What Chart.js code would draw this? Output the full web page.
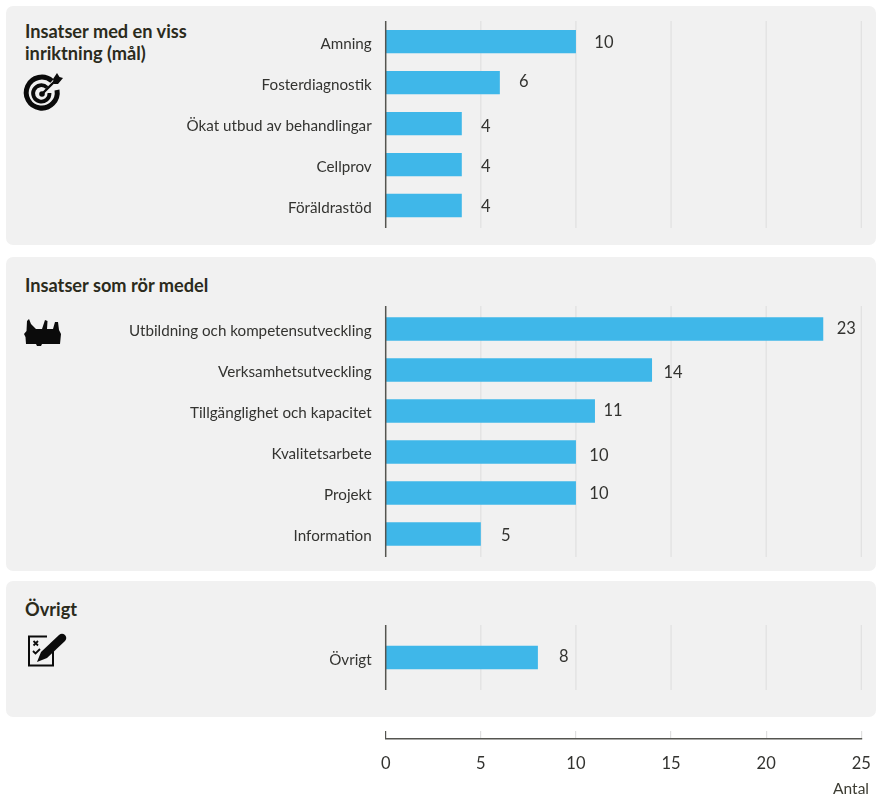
<!DOCTYPE html>
<html lang="sv">
<head>
<meta charset="utf-8">
<title>Insatser</title>
<script src="https://cdn.jsdelivr.net/npm/chart.js@4/dist/chart.umd.min.js"></script>
<style>
  html, body { margin: 0; padding: 0; background: #fff; }
  #page { position: relative; width: 876px; height: 797px; overflow: hidden; font-family: Lato, sans-serif; }
  .panel { position: absolute; left: 6px; width: 870px; background: #f1f1f1; border-radius: 7px; }
  .title { position: absolute; left: 25px; font-size: 18.2px; line-height: 22px; font-weight: 700; color: #2b2b1c; }
  #antal { position: absolute; right: 7px; top: 778px; font-size: 15.5px; line-height: 20px; color: #3c3c32; }
  canvas { position: absolute; left: 0; }
  svg { position: absolute; left: 0; top: 0; }
</style>
</head>
<body>
<div id="page">
  <div class="panel" style="top:6px;height:239px"></div>
  <div class="panel" style="top:257px;height:314px"></div>
  <div class="panel" style="top:581px;height:136px"></div>

  <div class="title" style="top:20px">Insatser med en viss<br>inriktning (mål)</div>
  <div class="title" style="top:274px">Insatser som rör medel</div>
  <div class="title" style="top:598px">Övrigt</div>

  <svg width="876" height="797" viewBox="0 0 876 797">
    <!-- target -->
    <g fill="none" stroke="#0b0b0b">
      <path d="M52 81 A15.5 15.5 0 1 0 57 90" stroke-width="5"/>
      <path d="M47 87.5 A8.2 8.2 0 1 0 49.5 93" stroke-width="3.8"/>
      <line x1="42" y1="94" x2="57" y2="79" stroke-width="2.4"/>
    </g>
    <circle cx="42" cy="94" r="2.8" fill="#0b0b0b"/>
    <path d="M53 79 L57 73 L59.5 77 L63 78 L58 84 L54 84 Z" fill="#0b0b0b"/>
    <!-- toolbox -->
    <path d="M24 334 L26.5 331 L27 321 L29 319 L31 324 L36 329 L42 329 L45 320 L47.5 321 L47 329 L53 329 L55 322 L58 322 L59 330 L61 334 L60 344 L42 344 L41 346 L37 346 L36 344 L26 344 L25.5 337 Z" fill="#0b0b0b"/>
    <!-- checklist and pen -->
    <path d="M53 643 V665.5 H29 V636.5 H47" fill="none" stroke="#0b0b0b" stroke-width="2"/>
    <path d="M33.5 641 L38 645.5 M38 641 L33.5 645.5" stroke="#0b0b0b" stroke-width="1.8" fill="none"/>
    <path d="M33 651 L35.5 653.5 L40 649" stroke="#0b0b0b" stroke-width="1.8" fill="none"/>
    <path d="M37 662 L41 652 L59 635 Q62 632.5 65 635 Q67.5 638 65 641 L47 658 Z" fill="#0b0b0b"/>
  </svg>

  <canvas id="chartMal" width="876" height="207" style="top:21px;width:876px;height:207px"></canvas>
  <canvas id="chartMedel" width="876" height="251" style="top:306px;width:876px;height:251px"></canvas>
  <canvas id="chartOvrigt" width="876" height="65" style="top:625px;width:876px;height:65px"></canvas>
  <canvas id="chartAxis" width="876" height="60" style="top:725px;width:876px;height:60px"></canvas>
  <div id="antal">Antal</div>
</div>

<script>
const malLabels = ['Amning', 'Fosterdiagnostik', 'Ökat utbud av behandlingar', 'Cellprov', 'Föräldrastöd'];
const malValues = [10, 6, 4, 4, 4];

const medelLabels = ['Utbildning och kompetensutveckling', 'Verksamhetsutveckling', 'Tillgänglighet och kapacitet', 'Kvalitetsarbete', 'Projekt', 'Information'];
const medelValues = [23, 14, 11, 10, 10, 5];

const ovrigtLabels = ['Övrigt'];
const ovrigtValues = [8];

const axisTicks = [0, 5, 10, 15, 20, 25];

const FONT = 'Lato';
const AREA_LEFT = 385.7;
const AREA_RIGHT = 14.7;

// value labels sit by hand next to the bar tips, so each one has its own nudge
const malNudge = [[28, 0.6], [24, -0.5], [24, 3], [24, 2], [24, 1.5]];
const medelNudge = [[23, -0.7], [21, 2.3], [18, -0.3], [23, 4], [23, 1], [25, 1.7]];
const ovrigtNudge = [[26, -1.3]];

// grid lines run the full canvas height, a bit past the bands
const rulesPlugin = {
  id: 'rules',
  beforeDatasetsDraw(chart) {
    const x = chart.scales.x;
    const ctx = chart.ctx;
    ctx.save();
    ctx.strokeStyle = '#e0e0e0';
    ctx.lineWidth = 1.2;
    x.ticks.forEach(function(t) {
      if (t.value === 0) return;
      const px = x.getPixelForValue(t.value);
      ctx.beginPath();
      ctx.moveTo(px, 0);
      ctx.lineTo(px, chart.height);
      ctx.stroke();
    });
    ctx.restore();
  },
  afterDatasetsDraw(chart) {
    const x = chart.scales.x;
    const ctx = chart.ctx;
    ctx.save();
    ctx.strokeStyle = '#555550';
    ctx.lineWidth = 1.5;
    ctx.beginPath();
    ctx.moveTo(x.getPixelForValue(0), 0);
    ctx.lineTo(x.getPixelForValue(0), chart.height);
    ctx.stroke();
    ctx.restore();
  }
};

const valueLabelPlugin = {
  id: 'valueLabels',
  afterDraw(chart, args, opts) {
    const ctx = chart.ctx;
    const meta = chart.getDatasetMeta(0);
    ctx.save();
    ctx.font = '16.5px ' + FONT;
    ctx.fillStyle = '#333330';
    ctx.textAlign = 'center';
    ctx.textBaseline = 'middle';
    meta.data.forEach(function(bar, i) {
      const nudge = opts.nudge[i];
      ctx.fillText(String(chart.data.datasets[0].data[i]), bar.x + nudge[0], bar.y + nudge[1]);
    });
    ctx.restore();
  }
};

// category names sit slightly below the bar centre, which the tick options can't do
const categoryLabelPlugin = {
  id: 'categoryLabels',
  afterDraw(chart) {
    const y = chart.scales.y;
    const ctx = chart.ctx;
    ctx.save();
    ctx.font = '15.2px ' + FONT;
    ctx.fillStyle = '#333330';
    ctx.textAlign = 'right';
    ctx.textBaseline = 'middle';
    chart.data.labels.forEach(function(label, i) {
      ctx.fillText(label, AREA_LEFT - 14, y.getPixelForTick(i) + 2.5);
    });
    ctx.restore();
  }
};

function barChart(id, labels, values, nudge, padTop, padBottom) {
  return new Chart(document.getElementById(id), {
    type: 'bar',
    data: {
      labels: labels,
      datasets: [{ data: values, backgroundColor: '#3fb7e9', categoryPercentage: 1, barPercentage: 0.57 }]
    },
    options: {
      indexAxis: 'y',
      responsive: false,
      animation: false,
      events: [],
      layout: { padding: { top: padTop, bottom: padBottom, right: AREA_RIGHT, left: 0 } },
      plugins: {
        legend: { display: false },
        tooltip: { enabled: false },
        valueLabels: { nudge: nudge }
      },
      scales: {
        x: { type: 'linear', display: false, min: 0, max: 25, ticks: { stepSize: 5 } },
        y: {
          // fixed gutter for the category names
          afterFit: function(scale) {
            scale.width = AREA_LEFT;
            scale.paddingTop = 0;
            scale.paddingBottom = 0;
          },
          grid: { display: false, drawTicks: false },
          border: { display: false },
          ticks: { display: false, autoSkip: false }
        }
      }
    },
    plugins: [rulesPlugin, valueLabelPlugin, categoryLabelPlugin]
  });
}

barChart('chartMal', malLabels, malValues, malNudge, 0.2, 2);
barChart('chartMedel', medelLabels, medelValues, medelNudge, 2.5, 2.5);
barChart('chartOvrigt', ovrigtLabels, ovrigtValues, ovrigtNudge, 12, 12);

// shared value axis under the panels
new Chart(document.getElementById('chartAxis'), {
  type: 'bar',
  data: { labels: [''], datasets: [{ data: [null] }] },
  options: {
    indexAxis: 'y',
    responsive: false,
    animation: false,
    events: [],
    layout: { padding: { top: 6, left: AREA_LEFT, right: AREA_RIGHT, bottom: 0 } },
    plugins: { legend: { display: false }, tooltip: { enabled: false } },
    scales: {
      x: {
        type: 'linear',
        min: axisTicks[0],
        max: axisTicks[axisTicks.length - 1],
        afterBuildTicks: function(scale) { scale.ticks = axisTicks.map(function(v) { return { value: v }; }); },
        afterFit: function(scale) {
          scale.height = 46.7;
          scale.paddingLeft = 0;
          scale.paddingRight = 0;
        },
        grid: {
          drawTicks: false,
          lineWidth: 1.2,
          color: function(c) { return c.tick && c.tick.value === 0 ? '#555550' : '#e0e0e0'; }
        },
        border: { display: true, color: '#555550', width: 1.5 },
        ticks: { padding: 15, maxRotation: 0, color: '#333330', font: { family: FONT, size: 16.5 } }
      },
      y: { display: false }
    }
  }
});
</script>
</body>
</html>
